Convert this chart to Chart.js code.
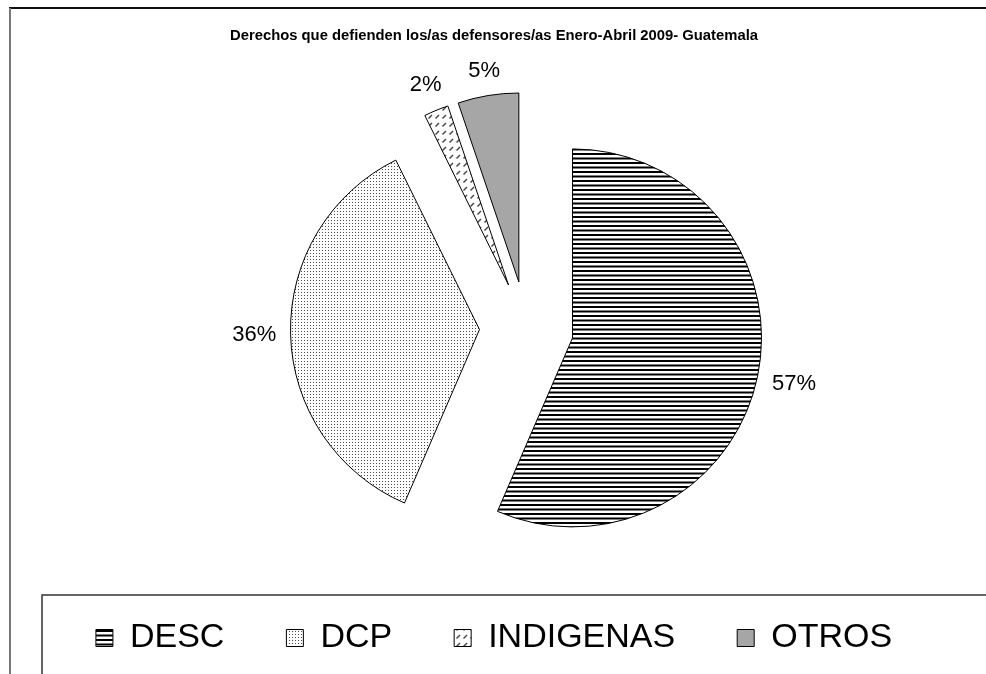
<!DOCTYPE html>
<html>
<head>
<meta charset="utf-8">
<script src="https://cdn.jsdelivr.net/npm/chart.js@4.4.1/dist/chart.umd.min.js"></script>
<style>
html, body { margin: 0; padding: 0; background: #fff; }
#contenedor { position: relative; width: 986px; height: 674px; }
</style>
</head>
<body>
<div id="contenedor"><canvas id="grafica"></canvas></div>
<script>
// datos
var categorias = ["DESC", "DCP", "INDIGENAS", "OTROS"];
var valores = [56.5, 36.2, 2.1, 5.2];
var etiquetas = ["57%", "36%", "2%", "5%"];
var titulo = "Derechos que defienden los/as defensores/as Enero-Abril 2009- Guatemala";

var fuente = "'Liberation Sans', Arial, sans-serif";

// tramas de relleno
function rayas() {
	var c = document.createElement("canvas");
	c.width = 8; c.height = 9;
	var x = c.getContext("2d");
	x.fillStyle = "#fff"; x.fillRect(0, 0, 8, 9);
	x.fillStyle = "#000";
	x.fillRect(0, 0, 8, 2);
	x.fillRect(0, 4.5, 8, 2);
	return x.createPattern(c, "repeat");
}

function puntos() {
	var c = document.createElement("canvas");
	c.width = 3; c.height = 3;
	var x = c.getContext("2d");
	x.fillStyle = "#fff"; x.fillRect(0, 0, 3, 3);
	x.fillStyle = "#4a4a4a"; x.fillRect(1, 1, 1, 1);
	return x.createPattern(c, "repeat");
}

function trazos() {
	var c = document.createElement("canvas");
	c.width = 7; c.height = 8;
	var x = c.getContext("2d");
	x.fillStyle = "#fff"; x.fillRect(0, 0, 7, 8);
	x.strokeStyle = "#444"; x.lineWidth = 1.5;
	x.beginPath(); x.moveTo(1.5, 6.5); x.lineTo(5, 3); x.stroke();
	return x.createPattern(c, "repeat");
}

var rellenos = [rayas(), puntos(), trazos(), "#a6a6a6"];

// separa cada porcion de su centro (pastel explotado)
var separar = {
	id: "separar",
	afterDatasetsUpdate: function (chart) {
		chart.getDatasetMeta(0).data.forEach(function (arc) {
			var mid = (arc.startAngle + arc.endAngle) / 2;
			arc.x += Math.cos(mid) * 47;
			arc.y += Math.sin(mid) * 47;
		});
	}
};

// porcentajes fuera de cada porcion, con un hueco fijo entre arco y texto
var porcentajes = {
	id: "porcentajes",
	afterDatasetsDraw: function (chart) {
		var ctx = chart.ctx;
		ctx.save();
		ctx.font = "22px " + fuente;
		ctx.fillStyle = "#000";
		ctx.textAlign = "center";
		ctx.textBaseline = "middle";
		chart.getDatasetMeta(0).data.forEach(function (arc, i) {
			var mid = (arc.startAngle + arc.endAngle) / 2;
			var medio = ctx.measureText(etiquetas[i]).width / 2;
			var ext = medio * Math.abs(Math.cos(mid)) + 8 * Math.abs(Math.sin(mid));
			var d = arc.outerRadius + 14 + ext;
			ctx.fillText(etiquetas[i], arc.x + Math.cos(mid) * d, arc.y + Math.sin(mid) * d);
		});
		ctx.restore();
	}
};

// marco del grafico y recuadro de la leyenda
var marco = {
	id: "marco",
	afterDraw: function (chart) {
		var ctx = chart.ctx;
		var ley = chart.legend;
		ctx.save();
		ctx.lineWidth = 2;
		ctx.strokeStyle = "#111";
		ctx.beginPath(); ctx.moveTo(9, 8); ctx.lineTo(986, 8); ctx.stroke();
		ctx.strokeStyle = "#777";
		ctx.beginPath(); ctx.moveTo(10, 8); ctx.lineTo(10, 674); ctx.stroke();
		ctx.lineWidth = 1.5;
		ctx.strokeStyle = "#333";
		ctx.strokeRect(42, ley.top + 36, 960, 100);
		ctx.restore();
	}
};

var grafica = new Chart(document.getElementById("grafica"), {
	type: "pie",
	data: {
		labels: categorias,
		datasets: [{
			data: valores,
			backgroundColor: rellenos,
			borderColor: "#000",
			borderWidth: 1,
			hoverOffset: 0,
			radius: 189
		}]
	},
	options: {
		responsive: true,
		maintainAspectRatio: false,
		animation: false,
		color: "#000",
		layout: { padding: { top: 8, bottom: 9, left: 2, right: 0 } },
		plugins: {
			tooltip: { enabled: false },
			title: {
				display: true,
				text: titulo,
				color: "#000",
				font: { family: fuente, size: 14.8, weight: "bold" },
				padding: { top: 19, bottom: 53 }
			},
			subtitle: {
				display: true,
				position: "left",
				text: "",
				font: { size: 10 },
				padding: { top: 53, bottom: 0 }
			},
			legend: {
				position: "bottom",
				labels: {
					color: "#000",
					font: { family: fuente, size: 34 },
					boxWidth: 17,
					boxHeight: 17,
					padding: 62
				}
			}
		}
	},
	plugins: [separar, porcentajes, marco]
});
</script>
</body>
</html>
